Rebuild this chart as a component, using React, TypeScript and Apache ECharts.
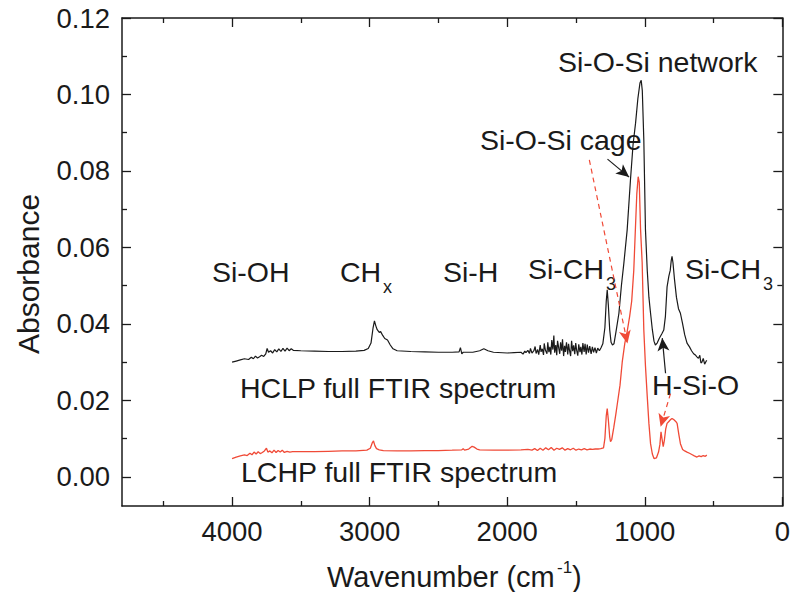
import React, { useEffect, useRef } from "react";
import * as echarts from "echarts";

// ---- Data ----
const hclpWavenumber = [
  4000, 3970, 3940, 3910, 3880, 3860, 3845, 3830, 3815, 3800, 3785, 3770, 3755, 3745, 3735, 3720, 3705, 3690, 3675, 3660,
  3645, 3630, 3615, 3600, 3585, 3570, 3555, 3500, 3400, 3300, 3200, 3100, 3040, 3010, 2990, 2975, 2965, 2955, 2945, 2930,
  2920, 2905, 2890, 2870, 2850, 2830, 2800, 2700, 2600, 2500, 2400, 2350, 2340, 2330, 2320, 2250, 2200, 2170, 2140, 2100,
  2000, 1950, 1900, 1885, 1872, 1864, 1850, 1838, 1831, 1820, 1806, 1797, 1790, 1779, 1771, 1760, 1754, 1745, 1736, 1731,
  1722, 1711, 1705, 1697, 1690, 1683, 1676, 1668, 1661, 1655, 1647, 1640, 1634, 1625, 1618, 1612, 1604, 1598, 1590, 1583,
  1577, 1569, 1560, 1554, 1548, 1539, 1532, 1524, 1517, 1509, 1502, 1495, 1487, 1480, 1471, 1465, 1457, 1450, 1441, 1434,
  1426, 1418, 1409, 1400, 1390, 1381, 1372, 1362, 1352, 1342, 1330, 1318, 1305, 1290, 1280, 1273, 1265, 1255, 1245, 1235,
  1224, 1210, 1188, 1170, 1152, 1128, 1104, 1085, 1067, 1050, 1035, 1026, 1018, 1007, 995, 982, 970, 958, 945, 933,
  923, 910, 895, 875, 862, 850, 838, 825, 815, 808, 802, 795, 785, 770, 755, 741, 725, 710, 693, 675,
  660, 645, 630, 621, 610, 600, 592, 585, 575, 565, 555, 549,
];
const hclpAbsorbance = [
  0.0300, 0.0303, 0.0306, 0.0309, 0.0307, 0.0313, 0.0309, 0.0316, 0.0311, 0.0314, 0.0318, 0.0315, 0.0322, 0.0336, 0.0326, 0.0330, 0.0324, 0.0333, 0.0327, 0.0335,
  0.0328, 0.0336, 0.0329, 0.0337, 0.0330, 0.0335, 0.0331, 0.0330, 0.0329, 0.0328, 0.0328, 0.0329, 0.0331, 0.0336, 0.0350, 0.0390, 0.0408, 0.0395, 0.0385, 0.0378,
  0.0380, 0.0370, 0.0362, 0.0358, 0.0345, 0.0335, 0.0330, 0.0328, 0.0327, 0.0326, 0.0326, 0.0327, 0.0338, 0.0322, 0.0326, 0.0326, 0.0330, 0.0335, 0.0330, 0.0326,
  0.0324, 0.0325, 0.0326, 0.0321, 0.0329, 0.0325, 0.0331, 0.0323, 0.0336, 0.0324, 0.0330, 0.0341, 0.0323, 0.0333, 0.0320, 0.0345, 0.0327, 0.0335, 0.0319, 0.0349,
  0.0331, 0.0322, 0.0352, 0.0326, 0.0340, 0.0320, 0.0358, 0.0333, 0.0370, 0.0325, 0.0345, 0.0318, 0.0356, 0.0336, 0.0322, 0.0352, 0.0330, 0.0360, 0.0316, 0.0343,
  0.0327, 0.0352, 0.0320, 0.0348, 0.0333, 0.0316, 0.0356, 0.0329, 0.0344, 0.0321, 0.0350, 0.0331, 0.0317, 0.0347, 0.0326, 0.0340, 0.0320, 0.0350, 0.0327, 0.0348,
  0.0320, 0.0346, 0.0325, 0.0342, 0.0322, 0.0340, 0.0326, 0.0338, 0.0324, 0.0337, 0.0330, 0.0338, 0.0348, 0.0390, 0.0460, 0.0489, 0.0450, 0.0385, 0.0352, 0.0345,
  0.0348, 0.0378, 0.0428, 0.0500, 0.0559, 0.0646, 0.0777, 0.0870, 0.0925, 0.0990, 0.1030, 0.1037, 0.1010, 0.0882, 0.0646, 0.0540, 0.0470, 0.0428, 0.0385, 0.0355,
  0.0345, 0.0350, 0.0362, 0.0375, 0.0384, 0.0420, 0.0497, 0.0525, 0.0540, 0.0565, 0.0577, 0.0560, 0.0520, 0.0470, 0.0440, 0.0428, 0.0400, 0.0372, 0.0350, 0.0340,
  0.0330, 0.0322, 0.0318, 0.0314, 0.0310, 0.0318, 0.0298, 0.0300, 0.0310, 0.0295, 0.0302, 0.0305,
];

const lchpWavenumber = [
  4000, 3970, 3940, 3910, 3890, 3870, 3855, 3840, 3825, 3810, 3795, 3780, 3765, 3750, 3740, 3725, 3710, 3695, 3680, 3665,
  3650, 3635, 3620, 3600, 3580, 3560, 3500, 3400, 3300, 3200, 3100, 3020, 2995, 2980, 2972, 2962, 2950, 2930, 2900, 2800,
  2700, 2600, 2500, 2400, 2330, 2320, 2310, 2280, 2255, 2240, 2220, 2200, 2100, 2000, 1900, 1850, 1820, 1800, 1780, 1760,
  1740, 1720, 1700, 1680, 1660, 1640, 1620, 1600, 1580, 1560, 1540, 1520, 1500, 1480, 1460, 1440, 1420, 1400, 1380, 1360,
  1340, 1320, 1300, 1290, 1280, 1273, 1265, 1255, 1249, 1240, 1225, 1210, 1200, 1180, 1164, 1145, 1128, 1110, 1095, 1080,
  1068, 1058, 1048, 1040, 1031, 1019, 1007, 995, 982, 970, 958, 945, 933, 915, 900, 890, 882, 875, 866, 858,
  848, 838, 825, 812, 802, 790, 775, 765, 752, 741, 725, 710, 693, 675, 655, 640, 621, 605, 590, 575,
  560, 549,
];
const lchpAbsorbance = [
  0.0048, 0.0052, 0.0055, 0.0058, 0.0056, 0.0062, 0.0058, 0.0065, 0.0060, 0.0066, 0.0061, 0.0064, 0.0068, 0.0075, 0.0065, 0.0068, 0.0063, 0.0070, 0.0064, 0.0069,
  0.0065, 0.0070, 0.0064, 0.0067, 0.0065, 0.0066, 0.0066, 0.0066, 0.0067, 0.0068, 0.0068, 0.0070, 0.0075, 0.0090, 0.0094, 0.0082, 0.0074, 0.0071, 0.0069, 0.0068,
  0.0068, 0.0069, 0.0069, 0.0070, 0.0071, 0.0074, 0.0070, 0.0073, 0.0080, 0.0078, 0.0073, 0.0071, 0.0070, 0.0070, 0.0071, 0.0072, 0.0070, 0.0074, 0.0069, 0.0075,
  0.0070, 0.0076, 0.0071, 0.0077, 0.0070, 0.0075, 0.0072, 0.0076, 0.0070, 0.0074, 0.0071, 0.0075, 0.0070, 0.0073, 0.0071, 0.0074, 0.0071, 0.0073, 0.0072, 0.0073,
  0.0073, 0.0074, 0.0076, 0.0100, 0.0160, 0.0179, 0.0150, 0.0105, 0.0092, 0.0098, 0.0130, 0.0165, 0.0190, 0.0240, 0.0300, 0.0350, 0.0380, 0.0420, 0.0460, 0.0540,
  0.0650, 0.0740, 0.0785, 0.0770, 0.0650, 0.0560, 0.0384, 0.0290, 0.0210, 0.0140, 0.0087, 0.0060, 0.0048, 0.0050, 0.0065, 0.0085, 0.0118, 0.0100, 0.0079, 0.0095,
  0.0125, 0.0140, 0.0145, 0.0150, 0.0153, 0.0150, 0.0145, 0.0140, 0.0110, 0.0087, 0.0072, 0.0068, 0.0065, 0.0062, 0.0058, 0.0055, 0.0052, 0.0055, 0.0053, 0.0056,
  0.0054, 0.0057,
];

const xMajorTicks = [0, 1000, 2000, 3000, 4000];
const xMinorTicks = [500, 1500, 2500, 3500, 4500];
const yMajorTicks = [0, 0.02, 0.04, 0.06, 0.08, 0.1, 0.12];
const yMinorTicks = [0.01, 0.03, 0.05, 0.07, 0.09, 0.11];

// arrows: [fromX, fromY, toX, toY] in data units
const blackArrows = [
  [1271, 0.0831, 1114, 0.0784],
  [849, 0.0271, 873, 0.0363],
];
const redArrows = [
  [1403, 0.0829, 1126, 0.0349],
  [813, 0.0218, 885, 0.0131],
];

const FONT = "'Liberation Sans', Arial, Helvetica, sans-serif";
const INK = "#1a1a1a";
const RED = "#f04a37";

export default function App() {
  const ref = useRef<HTMLDivElement>(null);

  useEffect(() => {
    if (!ref.current) return;
    const chart = echarts.init(ref.current, undefined, { renderer: "svg" });

    const axisLine = { show: true, onZero: false, lineStyle: { color: INK, width: 1.5 } };
    const noLine = { show: false, onZero: false };
    const tickStyle = { color: INK, width: 1.3 };
    const xBase = { type: "value", min: 0, max: 4800, inverse: true, splitLine: { show: false } };
    const yBase = { type: "value", min: -0.0076, max: 0.12, splitLine: { show: false } };

    const xAxes = [
      {
        ...xBase,
        position: "bottom",
        axisLine,
        axisTick: { show: true, inside: true, length: 9, customValues: xMajorTicks, lineStyle: tickStyle },
        axisLabel: {
          show: true,
          customValues: xMajorTicks,
          fontSize: 27.5,
          fontFamily: FONT,
          color: INK,
          margin: 11,
          formatter: (v: number) => String(v),
        },
      },
      {
        ...xBase,
        position: "top",
        axisLine,
        axisTick: { show: true, inside: true, length: 9, customValues: xMajorTicks, lineStyle: tickStyle },
        axisLabel: { show: false },
      },
      {
        ...xBase,
        position: "bottom",
        axisLine: noLine,
        axisTick: { show: true, inside: true, length: 5, customValues: xMinorTicks, lineStyle: tickStyle },
        axisLabel: { show: false },
      },
      {
        ...xBase,
        position: "top",
        axisLine: noLine,
        axisTick: { show: true, inside: true, length: 5, customValues: xMinorTicks, lineStyle: tickStyle },
        axisLabel: { show: false },
      },
    ];
    const yAxes = [
      {
        ...yBase,
        position: "left",
        axisLine,
        axisTick: { show: true, inside: true, length: 9, customValues: yMajorTicks, lineStyle: tickStyle },
        axisLabel: {
          show: true,
          customValues: yMajorTicks,
          fontSize: 27.5,
          fontFamily: FONT,
          color: INK,
          margin: 12,
          formatter: (v: number) => v.toFixed(2),
        },
      },
      {
        ...yBase,
        position: "right",
        axisLine,
        axisTick: { show: true, inside: true, length: 9, customValues: yMajorTicks, lineStyle: tickStyle },
        axisLabel: { show: false },
      },
      {
        ...yBase,
        position: "left",
        axisLine: noLine,
        axisTick: { show: true, inside: true, length: 5, customValues: yMinorTicks, lineStyle: tickStyle },
        axisLabel: { show: false },
      },
      {
        ...yBase,
        position: "right",
        axisLine: noLine,
        axisTick: { show: true, inside: true, length: 5, customValues: yMinorTicks, lineStyle: tickStyle },
        axisLabel: { show: false },
      },
    ];

    const arrowLines = (arr: number[][]) =>
      arr.map((a) => [{ coord: [a[0], a[1]] }, { coord: [a[2], a[3]] }]);

    const txt = (text: string, x: number, y: number, size = 28.5, extra: any = {}) => ({
      type: "text",
      x,
      y,
      silent: true,
      style: {
        text,
        fontSize: size,
        fontFamily: FONT,
        fill: INK,
        textAlign: "left",
        textVerticalAlign: "middle",
        ...extra,
      },
    });

    chart.setOption({
      animation: false,
      backgroundColor: "#ffffff",
      grid: { left: 122, right: 7, top: 18, bottom: 86, containLabel: false },
      xAxis: xAxes,
      yAxis: yAxes,
      series: [
        {
          name: "HCLP",
          type: "line",
          xAxisIndex: 0,
          yAxisIndex: 0,
          showSymbol: false,
          symbol: "none",
          data: hclpWavenumber.map((w, i) => [w, hclpAbsorbance[i]]),
          lineStyle: { color: INK, width: 1.2 },
          itemStyle: { color: INK },
          markLine: {
            silent: true,
            symbol: ["none", "arrow"],
            symbolSize: [9, 13],
            label: { show: false },
            lineStyle: { color: INK, width: 1.2, type: "solid" },
            itemStyle: { color: INK },
            data: arrowLines(blackArrows),
          },
        },
        {
          name: "LCHP",
          type: "line",
          xAxisIndex: 0,
          yAxisIndex: 0,
          showSymbol: false,
          symbol: "none",
          data: lchpWavenumber.map((w, i) => [w, lchpAbsorbance[i]]),
          lineStyle: { color: RED, width: 1.3 },
          itemStyle: { color: RED },
          markLine: {
            silent: true,
            symbol: ["none", "arrow"],
            symbolSize: [9, 13],
            label: { show: false },
            lineStyle: { color: RED, width: 1.2, type: [5, 4] },
            itemStyle: { color: RED },
            data: arrowLines(redArrows),
          },
        },
      ],
      graphic: [
        txt("Si-O-Si network", 558, 62),
        txt("Si-O-Si cage", 480, 140),
        txt("Si-OH", 212, 272),
        txt("CH", 340, 272),
        txt("x", 383, 287, 18),
        txt("Si-H", 443, 272),
        txt("Si-CH", 528, 269),
        txt("3", 606, 284, 18),
        txt("Si-CH", 685, 269),
        txt("3", 763, 284, 18),
        txt("H-Si-O", 652, 385),
        txt("HCLP full FTIR spectrum", 240, 388),
        txt("LCHP full FTIR spectrum", 241, 472),
        txt("Wavenumber (cm", 327, 577, 29),
        txt("-1", 557, 567, 17),
        txt(")", 572, 577, 29),
        {
          type: "text",
          x: 28,
          y: 274,
          rotation: Math.PI / 2,
          silent: true,
          style: {
            text: "Absorbance",
            fontSize: 30,
            fontFamily: FONT,
            fill: INK,
            textAlign: "center",
            textVerticalAlign: "middle",
          },
        },
      ],
    });

    return () => chart.dispose();
  }, []);

  return (
    <div
      ref={ref}
      style={{ position: "fixed", left: 0, top: 0, width: 793, height: 592, background: "#fff" }}
    />
  );
}
